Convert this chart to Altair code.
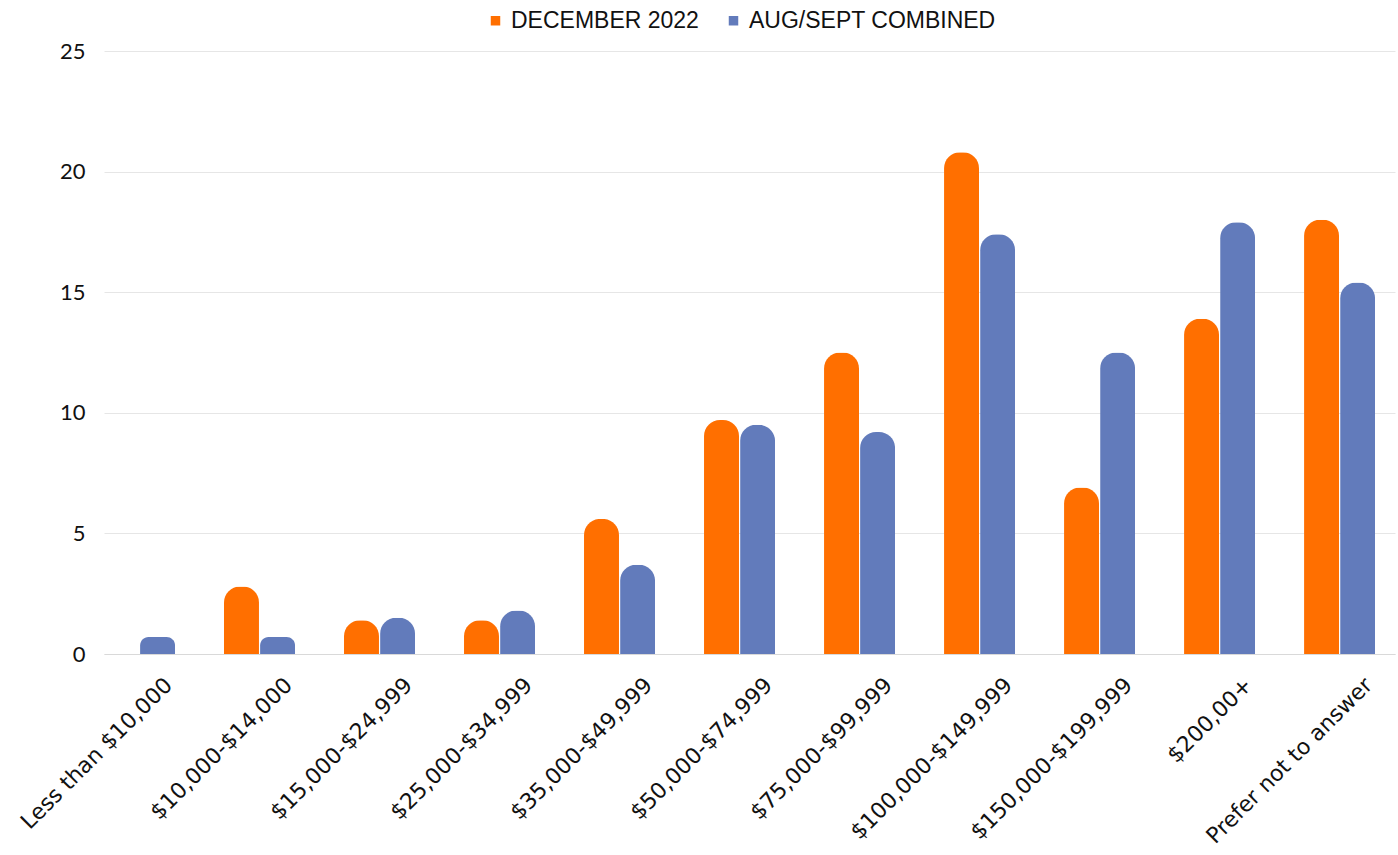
import altair as alt
import pandas as pd

categories = ["Less than $10,000", "$10,000-$14,000", "$15,000-$24,999", "$25,000-$34,999",
              "$35,000-$49,999", "$50,000-$74,999", "$75,000-$99,999", "$100,000-$149,999",
              "$150,000-$199,999", "$200,00+", "Prefer not to answer"]
series = ["DECEMBER 2022", "AUG/SEPT COMBINED"]
dec_2022 = [0, 2.8, 1.4, 1.4, 5.6, 9.7, 12.5, 20.8, 6.9, 13.9, 18.0]
aug_sept = [0.7, 0.7, 1.5, 1.8, 3.7, 9.5, 9.2, 17.4, 12.5, 17.9, 15.4]
colors = ["#FF6F00", "#627BBB"]

rows = []
for c, d, a in zip(categories, dec_2022, aug_sept):
    rows.append({"cat": c, "series": series[0], "value": d})
    rows.append({"cat": c, "series": series[1], "value": a})
df = pd.DataFrame(rows)

chart = alt.Chart(df).mark_bar(
    cornerRadiusTopLeft=16, cornerRadiusTopRight=16
).encode(
    x=alt.X("cat:N", sort=categories, title=None,
            scale=alt.Scale(paddingInner=0.408, paddingOuter=0.083, align=0),
            axis=alt.Axis(labelAngle=-45, labelFont="DejaVu Sans", labelFontSize=22,
                          labelColor="#111111", ticks=False, domainColor="#D9D9D9",
                          labelPadding=20, labelOffset=22, labelLimit=0)),
    xOffset=alt.XOffset("series:N", sort=series, scale=alt.Scale(paddingInner=0.03)),
    y=alt.Y("value:Q", title=None, scale=alt.Scale(domain=[0, 25]),
            axis=alt.Axis(values=[0, 5, 10, 15, 20, 25], labelFont="Lato", labelFontSize=22,
                          labelColor="#111111", ticks=False, domain=False,
                          gridColor="#E6E6E6", labelPadding=19)),
    color=alt.Color("series:N", sort=series,
                    scale=alt.Scale(domain=series, range=colors),
                    legend=alt.Legend(title=None, orient="none", direction="horizontal",
                                      legendX=380, legendY=-42, symbolType="square",
                                      symbolSize=90, labelFont="Liberation Sans",
                                      labelFontSize=23, labelColor="#111111",
                                      columnPadding=23, symbolStrokeWidth=0,
                                      labelLimit=0))
).properties(
    width=1291, height=603,
    autosize=alt.AutoSizeParams(type="none"),
    padding={"left": 104, "top": 51, "right": 3, "bottom": 201}
).configure_view(stroke=None)

chart.save("out.html", embed_options={"renderer": "svg", "actions": False})
